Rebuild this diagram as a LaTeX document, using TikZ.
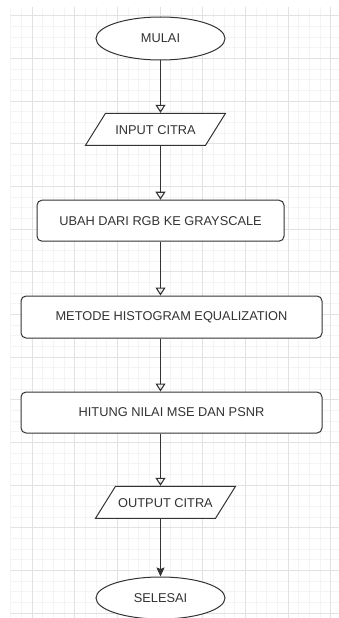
\documentclass[tikz,border=0pt]{standalone}
\usepackage{fontspec}
\setmainfont{Liberation Sans}
\usetikzlibrary{shapes.geometric}
\usetikzlibrary{arrows.meta}
\definecolor{gridminor}{RGB}{244,244,244}
\definecolor{gridmajor}{RGB}{226,226,226}
\definecolor{ink}{RGB}{51,51,51}

\begin{document}
\begin{tikzpicture}[x=1pt, y=-1pt,
  boxtext/.style={font=\fontsize{12.8}{15}\selectfont, text=ink},
  terminal/.style={ellipse, minimum width=129pt, minimum height=43pt, inner sep=0pt, fill=white, draw=ink, line width=1pt, boxtext},
  io/.style={trapezium, trapezium left angle=58, trapezium right angle=122, trapezium stretches body=true, minimum width=140pt, text height=10pt, text depth=0pt, inner xsep=0pt, inner ysep=11pt, fill=white, draw=ink, line width=1pt, boxtext},
  process/.style={rectangle, rounded corners=5pt, inner sep=0pt, fill=white, draw=ink, line width=1pt, boxtext},
  flow/.style={line width=1.1pt, draw=ink, -{Triangle[open, length=8pt, width=10pt]}},
  flowend/.style={line width=1.1pt, draw=ink, -{Stealth[length=9pt, width=8pt, inset=1.5pt]}}]
\useasboundingbox [fill=white] (0,0) rectangle (339,618);
% grid
\foreach \i in {0,...,31} \draw [gridminor, line width=0.8pt] ({10.67+\i*10.67},6.7) -- ({10.67+\i*10.67},618);
\foreach \j in {0,...,56} \draw [gridminor, line width=0.8pt] (10.67,{15.7+\j*10.67}) -- (339,{15.7+\j*10.67});
\foreach \i in {0,...,7} \draw [gridmajor, line width=0.9pt] ({32+\i*42.67},6.7) -- ({32+\i*42.67},618);
\foreach \j in {0,...,14} \draw [gridmajor, line width=0.9pt] (10.67,{15.7+\j*42.67}) -- (339,{15.7+\j*42.67});
% shapes
\node (mulai) [terminal] at (160.5, 38.5) {MULAI};
\node (input) [io] at (155.5, 129.3) {INPUT CITRA};
\node (ubah) [process, minimum width=247pt, minimum height=41pt] at (160.5, 220.7) {UBAH DARI RGB KE GRAYSCALE};
\node (metode) [process, minimum width=301pt, minimum height=42pt] at (171.5, 317) {METODE HISTOGRAM EQUALIZATION};
\node (hitung) [process, minimum width=301pt, minimum height=41pt] at (171.5, 412.5) {HITUNG NILAI MSE DAN PSNR};
\node (output) [io] at (165.5, 502.3) {OUTPUT CITRA};
\node (selesai) [terminal, minimum height=42pt] at (160.5, 598) {SELESAI};
% arrows
\draw [flow] (mulai) -- (mulai |- input.north);
\draw [flow] (mulai |- input.south) -- (mulai |- ubah.north);
\draw [flow] (mulai |- ubah.south) -- (mulai |- metode.north);
\draw [flow] (mulai |- metode.south) -- (mulai |- hitung.north);
\draw [flow] (mulai |- hitung.south) -- (mulai |- output.north);
\draw [flowend] (mulai |- output.south) -- (selesai);
\end{tikzpicture}
\end{document}
